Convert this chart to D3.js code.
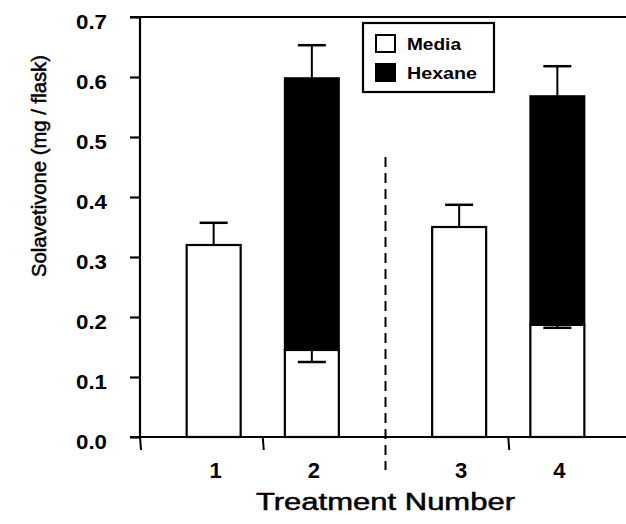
<!DOCTYPE html>
<html>
<head>
<meta charset="utf-8">
<script src="https://cdn.jsdelivr.net/npm/d3@7"></script>
<style>
  html, body { margin: 0; padding: 0; background: #fff; }
  svg { display: block; }
  text { font-family: "Liberation Sans", Arial, sans-serif; fill: #000; }
</style>
</head>
<body>
<svg id="chart" width="626" height="524"></svg>
<script>
// ---- data ----
const treatments = ["1", "2", "3", "4"];
const groups = ["A", "A", "B", "B"];
const mediaValues = [0.32, 0.145, 0.35, 0.187];
const mediaErrors = [0.037, 0.02, 0.037, 0.005];
const hexaneValues = [0, 0.453, 0, 0.381];
const hexaneErrors = [0, 0.055, 0, 0.05];
const yTicks = [0.0, 0.1, 0.2, 0.3, 0.4, 0.5, 0.6, 0.7];
const seriesNames = ["Media", "Hexane"];
const yTitle = "Solavetivone (mg / flask)";
const xTitle = "Treatment Number";

// ---- layout ----
const svg = d3.select("#chart");
const plotLeft = 140, plotRight = 631, plotTop = 17, plotBottom = 437;

const y = d3.scaleLinear().domain([0, 0.7]).range([plotBottom, plotTop]);
const xGroup = d3.scaleBand().domain(["A", "B"]).range([plotLeft, plotRight]).padding(0);
const xInner = d3.scalePoint().domain([0, 1]).range([0, xGroup.bandwidth()]).padding(0.75);
const barW = 54;

const data = treatments.map((t, i) => ({
  t, g: groups[i], idx: groups.slice(0, i).filter(g => g === groups[i]).length,
  media: mediaValues[i], mErr: mediaErrors[i], hex: hexaneValues[i], hErr: hexaneErrors[i]
}));
const cx = d => xGroup(d.g) + xInner(d.idx);

// ---- axes lines ----
svg.append("line").attr("x1", 130).attr("x2", 626).attr("y1", y(0.7)).attr("y2", y(0.7))
  .attr("stroke", "#000").attr("stroke-width", 2.2);
svg.append("line").attr("x1", 130).attr("x2", 626).attr("y1", y(0)).attr("y2", y(0))
  .attr("stroke", "#000").attr("stroke-width", 2.2);

const yAxis = d3.axisLeft(y).tickValues(yTicks).tickFormat(d3.format(".1f")).tickSize(10).tickPadding(0);
const gy = svg.append("g").attr("transform", `translate(${plotLeft},0)`).call(yAxis);
gy.select(".domain").attr("stroke-width", 2.2).attr("d", `M0,${y(0.7)}V${y(0)}`);
gy.selectAll(".tick line").attr("stroke-width", 2.2);
gy.selectAll(".tick text")
  .attr("x", -33).attr("dy", "0.55em")
  .style("font-size", "20px").style("font-weight", "bold")
  .attr("textLength", 31).attr("lengthAdjust", "spacingAndGlyphs")
  .attr("font-family", "Liberation Sans, Arial, sans-serif");

const bottomTicks = [xGroup("A"), xGroup("A") + xGroup.bandwidth() / 2, xGroup("B") + xGroup.bandwidth() / 2];
svg.selectAll(".btick").data(bottomTicks).join("line")
  .attr("x1", d => d).attr("x2", d => d + 1)
  .attr("y1", y(0)).attr("y2", y(0) + 13)
  .attr("stroke", "#000").attr("stroke-width", 2);

svg.append("line")
  .attr("x1", xGroup("B")).attr("x2", xGroup("B"))
  .attr("y1", 157).attr("y2", 470)
  .attr("stroke", "#000").attr("stroke-width", 2)
  .attr("stroke-dasharray", "10,6");

// ---- bars ----
const bars = svg.append("g");
data.forEach(d => {
  const x0 = cx(d);
  if (d.hex > 0) {
    const top = d.media + d.hex;
    bars.append("line").attr("x1", x0).attr("x2", x0).attr("y1", y(top)).attr("y2", y(top + d.hErr))
      .attr("stroke", "#000").attr("stroke-width", 2);
    bars.append("line").attr("x1", x0 - 14).attr("x2", x0 + 14).attr("y1", y(top + d.hErr)).attr("y2", y(top + d.hErr))
      .attr("stroke", "#000").attr("stroke-width", 2.5);
  }
});

bars.selectAll(".media").data(data).join("rect")
  .attr("x", d => cx(d) - barW / 2).attr("width", barW)
  .attr("y", d => y(d.media)).attr("height", d => y(0) - y(d.media))
  .attr("fill", "#fff").attr("stroke", "#000").attr("stroke-width", 2.2);

bars.selectAll(".hex").data(data.filter(d => d.hex > 0)).join("rect")
  .attr("x", d => cx(d) - barW / 2).attr("width", barW)
  .attr("y", d => y(d.media + d.hex)).attr("height", d => y(d.media) - y(d.media + d.hex))
  .attr("fill", "#000").attr("stroke", "#000").attr("stroke-width", 2);

data.forEach(d => {
  const x0 = cx(d);
  const dir = d.hex > 0 ? -1 : 1;
  const end = d.media + dir * d.mErr;
  bars.append("line").attr("x1", x0).attr("x2", x0).attr("y1", y(d.media)).attr("y2", y(end))
    .attr("stroke", "#000").attr("stroke-width", 2);
  bars.append("line").attr("x1", x0 - 14).attr("x2", x0 + 14).attr("y1", y(end)).attr("y2", y(end))
    .attr("stroke", "#000").attr("stroke-width", 2.5);
});

svg.selectAll(".xlab").data(data).join("text")
  .attr("x", d => cx(d) + 2).attr("y", 478)
  .attr("text-anchor", "middle")
  .style("font-size", "22px").style("font-weight", "bold")
  .text(d => d.t);

// axis titles
svg.append("text")
  .attr("transform", `translate(46,277) rotate(-90)`)
  .attr("text-anchor", "start")
  .style("font-size", "20px")
  .attr("stroke", "#000").attr("stroke-width", 0.5)
  .attr("textLength", 222).attr("lengthAdjust", "spacingAndGlyphs")
  .text(yTitle);

svg.append("text")
  .attr("x", 256).attr("y", 510)
  .attr("text-anchor", "start")
  .style("font-size", "23px")
  .attr("stroke", "#000").attr("stroke-width", 0.5)
  .attr("textLength", 259).attr("lengthAdjust", "spacingAndGlyphs")
  .text(xTitle);

// ---- legend ----
const lg = svg.append("g");
lg.append("rect").attr("x", 363).attr("y", 23).attr("width", 131).attr("height", 69)
  .attr("fill", "#fff").attr("stroke", "#000").attr("stroke-width", 2.2);
const legFill = ["#fff", "#000"];
const legY = [35, 64];
const legTextW = [54, 70];
seriesNames.forEach((name, i) => {
  lg.append("rect").attr("x", 376).attr("y", legY[i]).attr("width", 19).attr("height", 17)
    .attr("fill", legFill[i]).attr("stroke", "#000").attr("stroke-width", 2);
  lg.append("text").attr("x", 407).attr("y", legY[i] + 15)
    .style("font-size", "17px").style("font-weight", "bold")
    .attr("textLength", legTextW[i]).attr("lengthAdjust", "spacingAndGlyphs")
    .text(name);
});
</script>
</body>
</html>
